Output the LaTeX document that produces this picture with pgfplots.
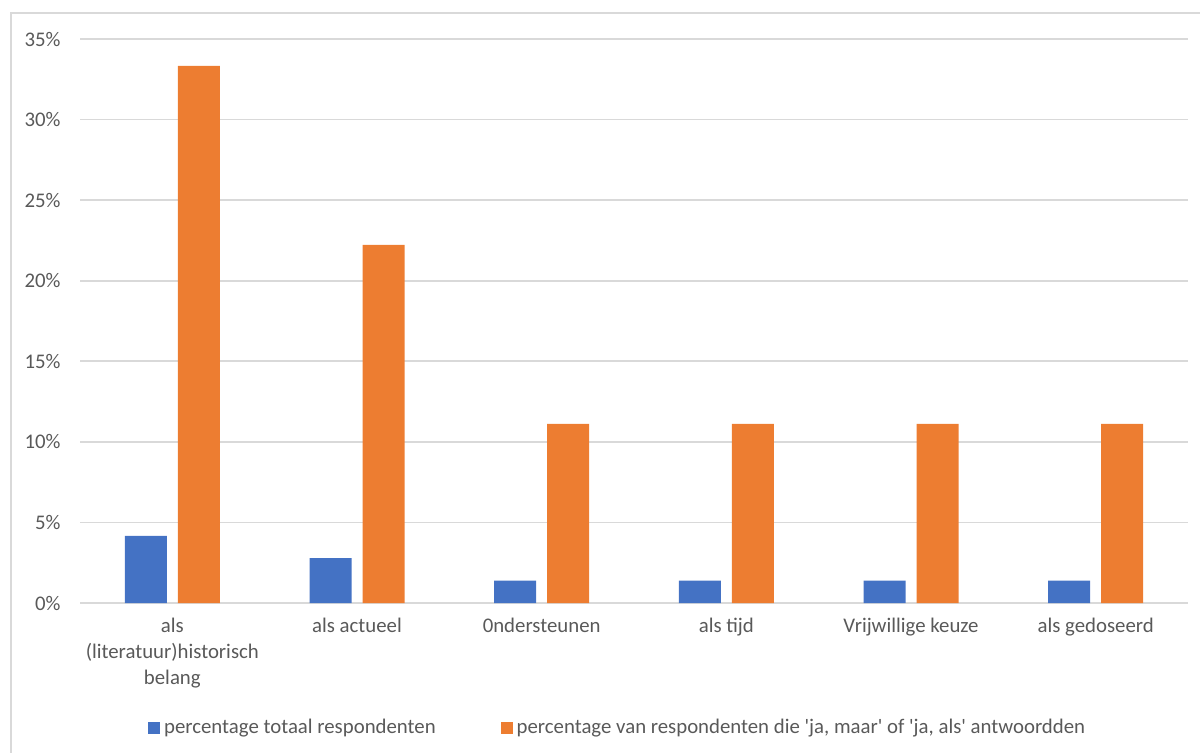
\documentclass[border=0pt]{standalone}
\usepackage{pgfplots}
\pgfplotsset{compat=1.18}
\usepackage{fontspec}
\setmainfont{Carlito}
\definecolor{cblue}{HTML}{4472C4}
\definecolor{corange}{HTML}{ED7D31}
\definecolor{ctext}{HTML}{595959}
\definecolor{cgrid}{HTML}{D9D9D9}
\begin{document}
\begin{tikzpicture}[x=1pt,y=1pt]
\path[use as bounding box] (0,0) rectangle (600,376);
\draw[cgrid, line width=0.8pt] (5.5,-5) -- (5.5,369.5) -- (605,369.5);
\begin{axis}[
  at={(40pt,74.5pt)}, anchor=south west,
  scale only axis, width=554pt, height=282pt,
  ybar=5.5pt, bar width=21pt,
  xmin=-0.5, xmax=5.5, ymin=0, ymax=35,
  xtick={0,...,5},
  xticklabels={{als\\(literatuur)historisch\\belang},{als actueel},{0ndersteunen},{als tijd},{Vrijwillige keuze},{als gedoseerd}},
  ytick={0,5,...,35},
  yticklabel={\pgfmathprintnumber{\tick}\%},
  /pgf/number format/assume math mode=true,
  ymajorgrids, grid style={cgrid, line width=0.8pt},
  axis x line*=bottom, axis y line*=left,
  axis line style={-},
  x axis line style={cgrid, line width=0.8pt},
  y axis line style={draw=none},
  major tick length=0pt,
  tick label style={text=ctext, font=\fontsize{10.4}{13}\selectfont},
  yticklabel style={anchor=east, inner sep=0pt, xshift=-9.5pt},
  xticklabel style={align=center, anchor=north, inner sep=0pt, yshift=-7.5pt},
  legend style={draw=none, fill=none, at={(0.4861,-0.2216)}, anchor=center,
    legend columns=2, font=\fontsize{10.4}{12}\selectfont, text=ctext,
    /tikz/every even column/.append style={column sep=30.5pt}},
  legend image code/.code={\fill[#1] (0pt,-3pt) rectangle (6pt,3pt);},
]
\addplot[fill=cblue, draw=none] coordinates {(0,4.17) (1,2.78) (2,1.39) (3,1.39) (4,1.39) (5,1.39)};
\addlegendentry{percentage totaal respondenten}
\addplot[fill=corange, draw=none] coordinates {(0,33.33) (1,22.22) (2,11.11) (3,11.11) (4,11.11) (5,11.11)};
\addlegendentry{percentage van respondenten die \textquotesingle ja, maar\textquotesingle{} of \textquotesingle ja, als\textquotesingle{} antwoordden}
\end{axis}
\end{tikzpicture}
\end{document}
